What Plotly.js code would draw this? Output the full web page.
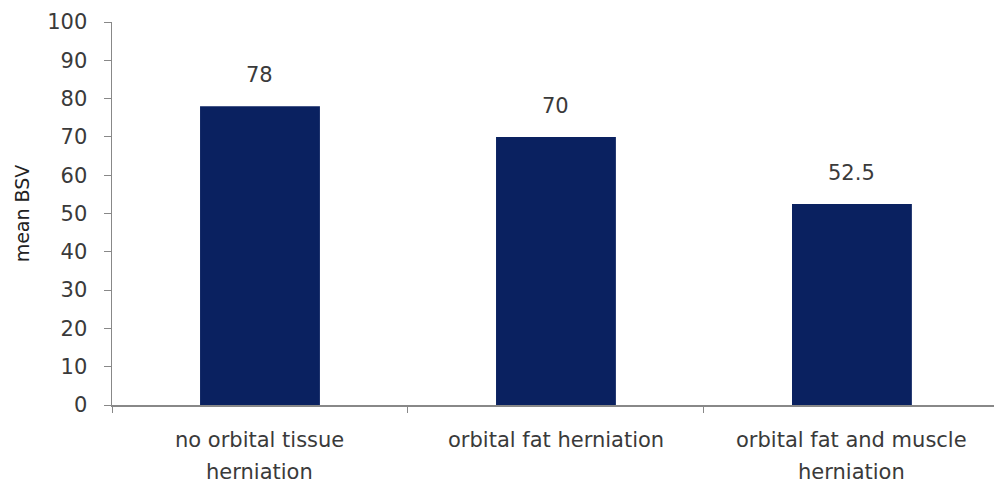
<!DOCTYPE html>
<html>
<head>
<meta charset="utf-8">
<script src="https://cdn.plot.ly/plotly-3.0.1.min.js"></script>
<style>html,body{margin:0;padding:0;background:#fff;}#chart{width:994px;height:484px;}</style>
</head>
<body>
<div id="chart"></div>
<script>
const categories = ["no orbital tissue herniation", "orbital fat herniation", "orbital fat and muscle herniation"];
const tickLabels = ["no orbital tissue<br>herniation", "orbital fat herniation", "orbital fat and muscle<br>herniation"];
const meanBSV = [78, 70, 52.5];
const valueLabels = ["78", "70", "52.5"];
const yTicks = [0, 10, 20, 30, 40, 50, 60, 70, 80, 90, 100];

const font = {family: "'DejaVu Sans', sans-serif", size: 21, color: "#3a3a3a"};

const trace = {
  type: "bar",
  x: categories,
  y: meanBSV,
  marker: {color: "#0a2160"},
  width: 0.405,
  hoverinfo: "skip"
};

const annotations = categories.map((c, i) => ({
  x: c, y: meanBSV[i], text: valueLabels[i], showarrow: false,
  yanchor: "middle", yshift: 31, font: font
}));

categories.forEach((c, i) => {
  tickLabels[i].split("<br>").forEach((line, j) => {
    annotations.push({
      x: c, xref: "x", y: 0, yref: "paper", text: line, showarrow: false,
      yanchor: "middle", yshift: -(35 + 32 * j), font: font
    });
  });
});

const layout = {
  width: 994, height: 484,
  margin: {l: 112, r: 0, t: 22, b: 79},
  paper_bgcolor: "#fff", plot_bgcolor: "#fff",
  showlegend: false,
  font: font,
  xaxis: {
    type: "category",
    range: [-0.5, 2.48],
    tickvals: categories,
    ticktext: categories.map(() => ""),
    tickson: "boundaries",
    ticks: "outside", ticklen: 6, tickcolor: "#888",
    showline: true, linecolor: "#888", linewidth: 1.5,
    showgrid: false, zeroline: false,
    tickfont: font
  },
  yaxis: {
    range: [0, 100],
    tickvals: yTicks,
    ticks: "outside", ticklen: 7, tickcolor: "#888",
    showline: true, linecolor: "#888", linewidth: 1.5,
    showgrid: false, zeroline: false,
    ticklabelstandoff: 12,
    tickfont: font,
    title: {text: "mean BSV", font: {family: font.family, size: 19, color: "#222"}, standoff: 12}
  },
  annotations: annotations
};

Plotly.newPlot("chart", [trace], layout, {staticPlot: true});
</script>
</body>
</html>
